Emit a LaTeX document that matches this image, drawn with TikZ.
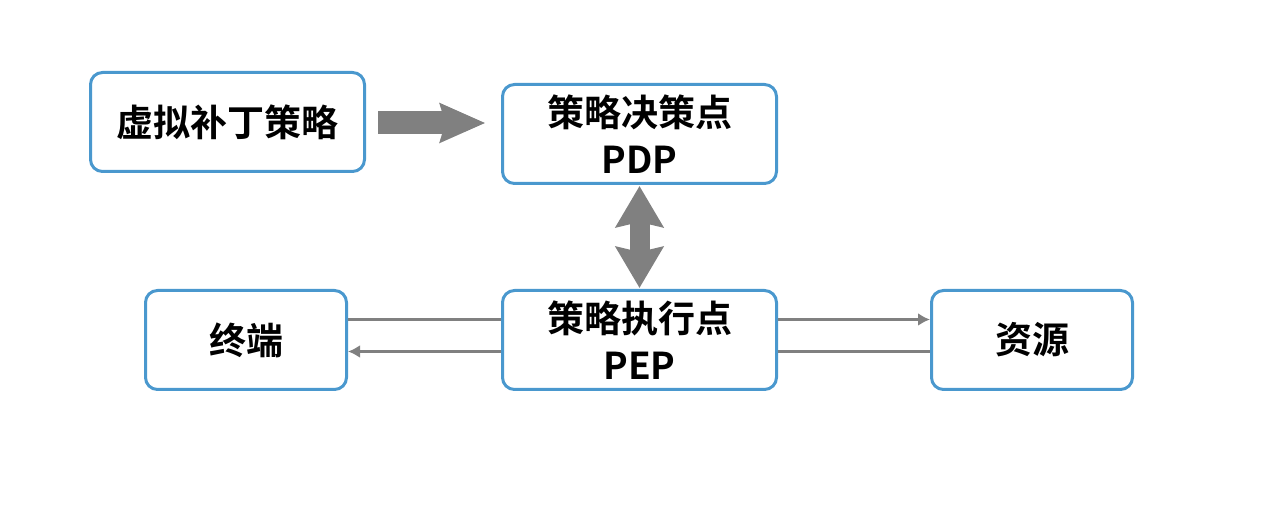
\documentclass[tikz,border=0pt]{standalone}
\usepackage{fontspec}
\setmainfont{Noto Sans CJK SC}[BoldFont={Noto Sans CJK SC Bold}]
\usetikzlibrary{positioning,arrows.meta}
\definecolor{boxblue}{RGB}{74,152,206}
\definecolor{arrowgray}{RGB}{128,128,128}

\begin{document}
\begin{tikzpicture}[auto, thick, node distance=52pt]
% Definition of blocks:
\tikzset{%
  block/.style    = {draw=boxblue, line width=1.5pt, rectangle, rounded corners=6pt, minimum height=49.5pt, minimum width=137pt, align=center, font=\fontsize{18.5}{23.5}\selectfont\bfseries},
  smallblock/.style = {block, minimum width=100.5pt},
  fatarrow/.style = {draw=arrowgray, line width=11.5pt, -{Stealth[length=22.5pt, width=19pt, inset=2.5pt]}},
  fatdouble/.style = {draw=arrowgray, line width=10pt, {Stealth[length=20.5pt, width=23.5pt, inset=2.5pt]}-{Stealth[length=20.5pt, width=23.5pt, inset=2.5pt]}},
  link/.style     = {draw=arrowgray, line width=1.5pt}, % thin connector
  linkarrow/.style = {link, -{Latex[length=6pt, width=6.5pt]}}
}
\useasboundingbox (0,0) rectangle (640pt,-258.5pt);

\draw
	node [block] (PDP) at (319.75pt,-67pt) {策略决策点\\PDP}
	node [block, below = of PDP] (PEP) {策略执行点\\PEP}
	node [block] (Patch) at (113.75pt,-61pt) {虚拟补丁策略}
	node [smallblock, left = 76.5pt of PEP] (Terminal) {终端}
	node [smallblock, right = 76pt of PEP] (Resource) {资源};

\draw[fatarrow, shorten <=6pt, shorten >=7.75pt] ([yshift=-0.5pt]Patch.east) -- ([yshift=-0.5pt]Patch.east -| PDP.west);
\draw[fatdouble, shorten <=0.5pt, shorten >=0.5pt] (PDP) -- (PEP);

\draw[link] ([yshift=10.25pt]PEP.west) -- ([yshift=10.25pt]Terminal.east);
\draw[linkarrow] ([yshift=-5.75pt]PEP.west) -- ([yshift=-5.75pt]Terminal.east);
\draw[linkarrow] ([yshift=10.25pt]PEP.east) -- ([yshift=10.25pt]Resource.west);
\draw[link] ([yshift=-5.75pt]PEP.east) -- ([yshift=-5.75pt]Resource.west);

\end{tikzpicture}
\end{document}
